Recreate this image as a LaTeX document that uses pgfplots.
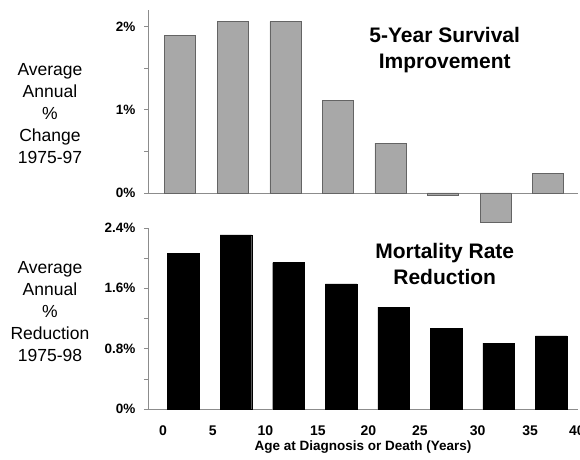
\documentclass[border=0pt]{standalone}
\usepackage{pgfplots}
\pgfplotsset{compat=1.18}
\usepackage{fontspec}
\setmainfont{Liberation Sans}
\definecolor{barg}{RGB}{168,168,168}
\definecolor{edgeg}{RGB}{100,100,100}
\definecolor{axg}{RGB}{140,140,140}
\begin{document}
\begin{tikzpicture}[x=1pt,y=1pt]
\pgfplotsset{
  common/.style={
    scale only axis, width=430pt,
    xmin=-1.07, xmax=39.85,
    axis line style={draw=none},
    ytick pos=left, xtick pos=bottom,
    ytick style={draw=axg, line width=0.6pt},
    tick align=outside, major tick length=4pt, minor tick length=4pt,
    yticklabel style={font=\bfseries\fontsize{13.5}{15}\selectfont, xshift=-5pt},
    /pgf/number format/assume math mode=true,
    clip=false,
  }
}
\begin{axis}[common, name=top, at={(148pt,237pt)}, anchor=south west, height=212pt,
  ymin=-0.35, ymax=2.2,
  xtick=\empty,
  ytick={0,1,2}, yticklabels={0\%,1\%,2\%}, minor ytick={0.5,1.5},
]
\draw[axg, line width=0.6pt] (axis cs:-1.07,0) -- (rel axis cs:0,1);
\draw[axg, line width=0.6pt] (axis cs:-1.07,0) -- (axis cs:39.85,0);
\addplot[ybar, bar width=2.95, fill=barg, draw=edgeg, line width=0.6pt] coordinates {
(2,1.89) (7,2.06) (12,2.06) (17,1.11) (22,0.60) (27,-0.03) (32,-0.35) (37,0.23)};
\node[font=\bfseries\fontsize{21}{26}\selectfont, align=center] at (rel axis cs:0.69,0.81) {5-Year Survival\\Improvement};
\node[font=\fontsize{17.5}{22}\selectfont, align=center] at (rel axis cs:-0.228,0.51) {Average\\Annual\\\%\\Change\\1975-97};
\end{axis}
\begin{axis}[common, name=bot, at={(148pt,50pt)}, anchor=south west, height=181pt,
  ymin=0, ymax=2.4,
  ytick={0,0.8,1.6,2.4}, yticklabels={0\%,0.8\%,1.6\%,2.4\%}, minor ytick={0.4,1.2,2.0},
  xtick={0.36,5.1,10.1,15.1,19.9,24.8,30.3,35.3,39.75},
  xticklabels={0,5,10,15,20,25,30,35,40},
  xtick style={draw=none},
  xticklabel style={font=\bfseries\fontsize{14}{16}\selectfont, yshift=-9pt},
  xlabel={Age at Diagnosis or Death (Years)},
  xlabel style={font=\bfseries\fontsize{13.5}{16}\selectfont, at={(axis description cs:0.5,0)}, anchor=center, yshift=-38pt},
]
\draw[axg, line width=0.6pt] (rel axis cs:0,0) -- (rel axis cs:0,1);
\draw[axg, line width=0.6pt] (rel axis cs:0,0) -- (rel axis cs:1,0);
\addplot[ybar, bar width=3.0, fill=black, draw=black] coordinates {
(2.3,2.06) (7.3,2.31) (12.3,1.94) (17.3,1.66) (22.3,1.35) (27.3,1.07) (32.3,0.875) (37.3,0.97)};
\node[font=\bfseries\fontsize{21}{26}\selectfont, align=center] at (rel axis cs:0.69,0.80) {Mortality Rate\\Reduction};
\node[font=\fontsize{17.5}{22}\selectfont, align=center] at (rel axis cs:-0.228,0.536) {Average\\Annual\\\%\\Reduction\\1975-98};
\end{axis}
\pgfresetboundingbox
\useasboundingbox (0pt,0pt) rectangle (580pt,459pt);
\end{tikzpicture}
\end{document}
